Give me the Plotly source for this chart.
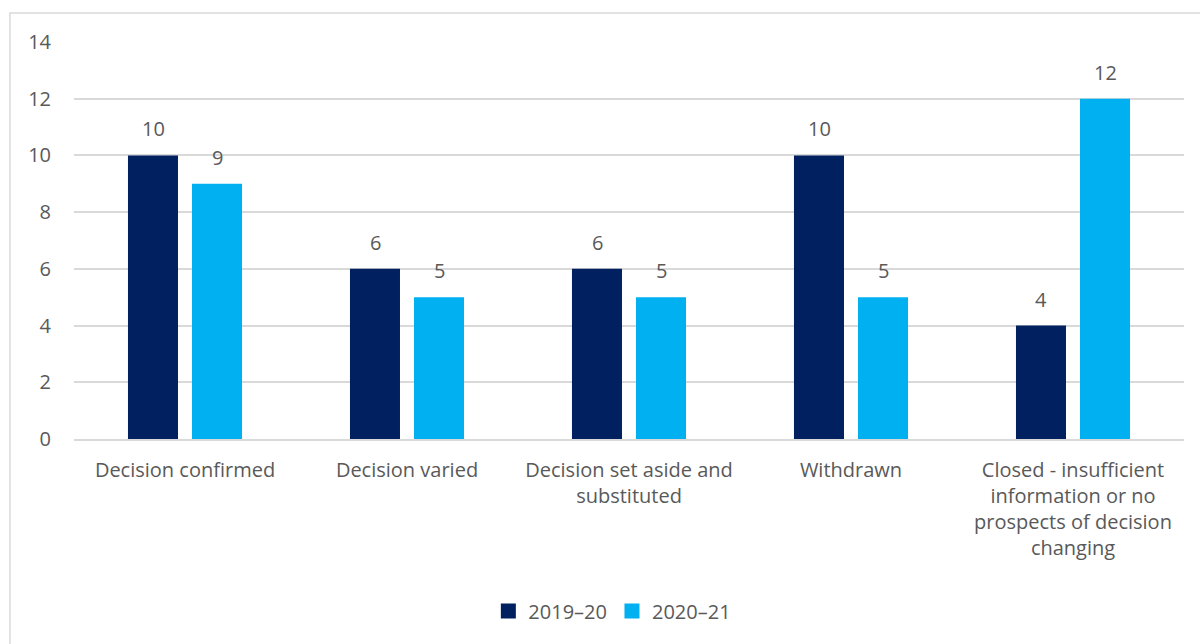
import plotly.graph_objects as go

# Outcome categories and yearly counts
categories = [
    "Decision confirmed",
    "Decision varied",
    "Decision set aside and<br>substituted",
    "Withdrawn",
    "Closed - insufficient<br>information or no<br>prospects of decision<br>changing",
]
series_names = ["2019–20", "2020–21"]
values_2019_20 = [10, 6, 6, 10, 4]
values_2020_21 = [9, 5, 5, 5, 12]
y_ticks = [0, 2, 4, 6, 8, 10, 12, 14]

colors = ["#002060", "#00B0F0"]
text_color = "#595959"
font_family = "Open Sans, Liberation Sans, Arial, sans-serif"
fs = 20

fig = go.Figure()
for name, vals, col in zip(series_names, [values_2019_20, values_2020_21], colors):
    fig.add_trace(go.Bar(
        x=categories, y=vals, name=name, marker_color=col,
        marker_line_width=0, showlegend=False,
    ))

# Legend entries with square swatches
for name, col in zip(series_names, colors):
    fig.add_trace(go.Scatter(
        x=[None], y=[None], mode="markers", name=name,
        marker=dict(symbol="square", size=15, color=col),
    ))

# Value labels above each bar
annotations = []
for vals, shift in [(values_2019_20, -32), (values_2020_21, 32)]:
    for cat, v in zip(categories, vals):
        annotations.append(dict(
            x=cat, y=v, xref="x", yref="y", text=str(v), showarrow=False,
            xshift=shift, yshift=11, yanchor="bottom",
            font=dict(size=fs, color=text_color, family=font_family),
        ))

fig.update_layout(
    width=1200, height=644,
    margin=dict(l=74, r=16, t=42, b=205),
    paper_bgcolor="white", plot_bgcolor="white",
    barmode="group", bargap=0.423, bargroupgap=0.219,
    font=dict(family=font_family, size=fs, color=text_color),
    showlegend=True,
    legend=dict(orientation="h", x=0.485, xanchor="center", y=-0.433, yanchor="middle",
                font=dict(size=fs, color=text_color), itemwidth=30,
                traceorder="normal"),
    annotations=annotations,
    shapes=[dict(type="rect", xref="paper", yref="paper",
                 x0=-0.0577, x1=1.05, y0=-0.65, y1=1.073,
                 line=dict(color="#D9D9D9", width=1.5), fillcolor="rgba(0,0,0,0)",
                 layer="below")],
)
fig.update_yaxes(range=[0, 14], tickvals=y_ticks, showgrid=True, gridcolor="#D9D9D9",
                 gridwidth=1.5, zeroline=False, showline=False, ticks="",
                 ticklabelstandoff=22, tickfont=dict(size=fs, color=text_color))
fig.update_xaxes(showline=True, linecolor="#D9D9D9", linewidth=1.5, ticks="",
                 ticklabelstandoff=12, tickfont=dict(size=fs, color=text_color))

fig.write_html("out.html")
